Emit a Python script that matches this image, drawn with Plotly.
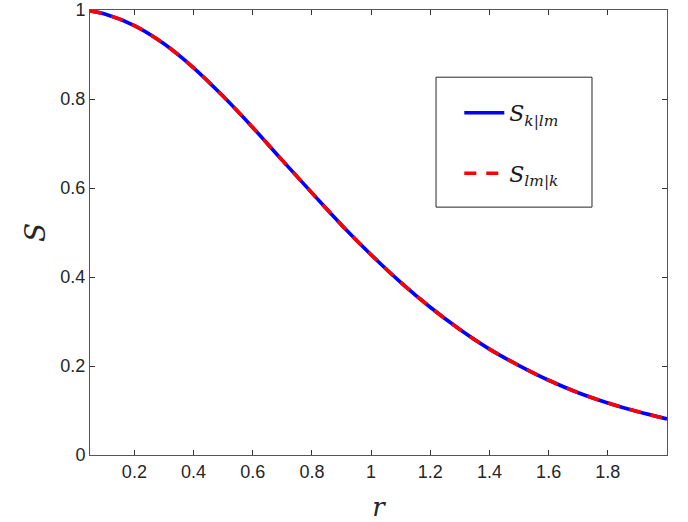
import plotly.graph_objects as go

# Data
r_vals = [0.05, 0.1, 0.2, 0.3, 0.4, 0.5, 0.6, 0.7, 0.8, 0.9, 1.0,
          1.1, 1.2, 1.3, 1.4, 1.5, 1.6, 1.7, 1.8, 1.9, 2.0]
s_vals = [0.998, 0.991, 0.965, 0.924, 0.870, 0.806, 0.736, 0.662, 0.589, 0.517, 0.450,
          0.388, 0.332, 0.282, 0.238, 0.201, 0.168, 0.140, 0.117, 0.0975, 0.081]
x_ticks = [0.2, 0.4, 0.6, 0.8, 1, 1.2, 1.4, 1.6, 1.8]
y_ticks = [0, 0.2, 0.4, 0.6, 0.8, 1]
name_1 = "<i>S</i><sub><i>k</i>|<i>lm</i></sub>"
name_2 = "<i>S</i><sub><i>lm</i>|<i>k</i></sub>"

fig = go.Figure()
fig.add_trace(go.Scatter(x=r_vals, y=s_vals, mode="lines", name=name_1,
                         legendgroup="a",
                         line=dict(color="#0000ff", width=3.6, shape="spline")))
fig.add_trace(go.Scatter(x=r_vals, y=s_vals, mode="lines", name=name_2,
                         legendgroup="b",
                         line=dict(color="#ff0000", width=3.6, dash="12px,10px", shape="spline")))

axis_common = dict(showgrid=False, zeroline=False, showline=True, mirror="ticks",
                   linecolor="#555555", linewidth=1, ticks="inside", ticklen=5,
                   tickcolor="#333333", automargin=False,
                   tickfont=dict(family="Arial", size=18, color="#262626"))

fig.update_layout(
    width=688, height=522, autosize=False,
    margin=dict(l=90, r=21, t=10, b=67),
    paper_bgcolor="white", plot_bgcolor="white",
    xaxis=dict(range=[0.05, 2], tickvals=x_ticks,
               title=dict(text="<i>r</i>", standoff=19,
                          font=dict(family="DejaVu Serif", size=26, color="#262626")),
               **axis_common),
    yaxis=dict(range=[0, 1], tickvals=y_ticks,
               title=dict(text="<i>S</i>", standoff=6,
                          font=dict(family="DejaVu Serif", size=28, color="#262626")),
               **axis_common),
    legend=dict(x=0.64, y=0.816, xanchor="left", yanchor="top",
                bgcolor="rgba(0,0,0,0)", borderwidth=0,
                traceorder="grouped", tracegroupgap=29, itemwidth=40,
                font=dict(family="DejaVu Serif", size=22, color="#1a1a1a")),
    shapes=[dict(type="rect", xref="paper", yref="paper",
                 x0=0.5997, x1=0.870, y0=0.557, y1=0.849,
                 line=dict(color="#262626", width=1), fillcolor="rgba(0,0,0,0)")],
)

fig.write_html("out.html")
